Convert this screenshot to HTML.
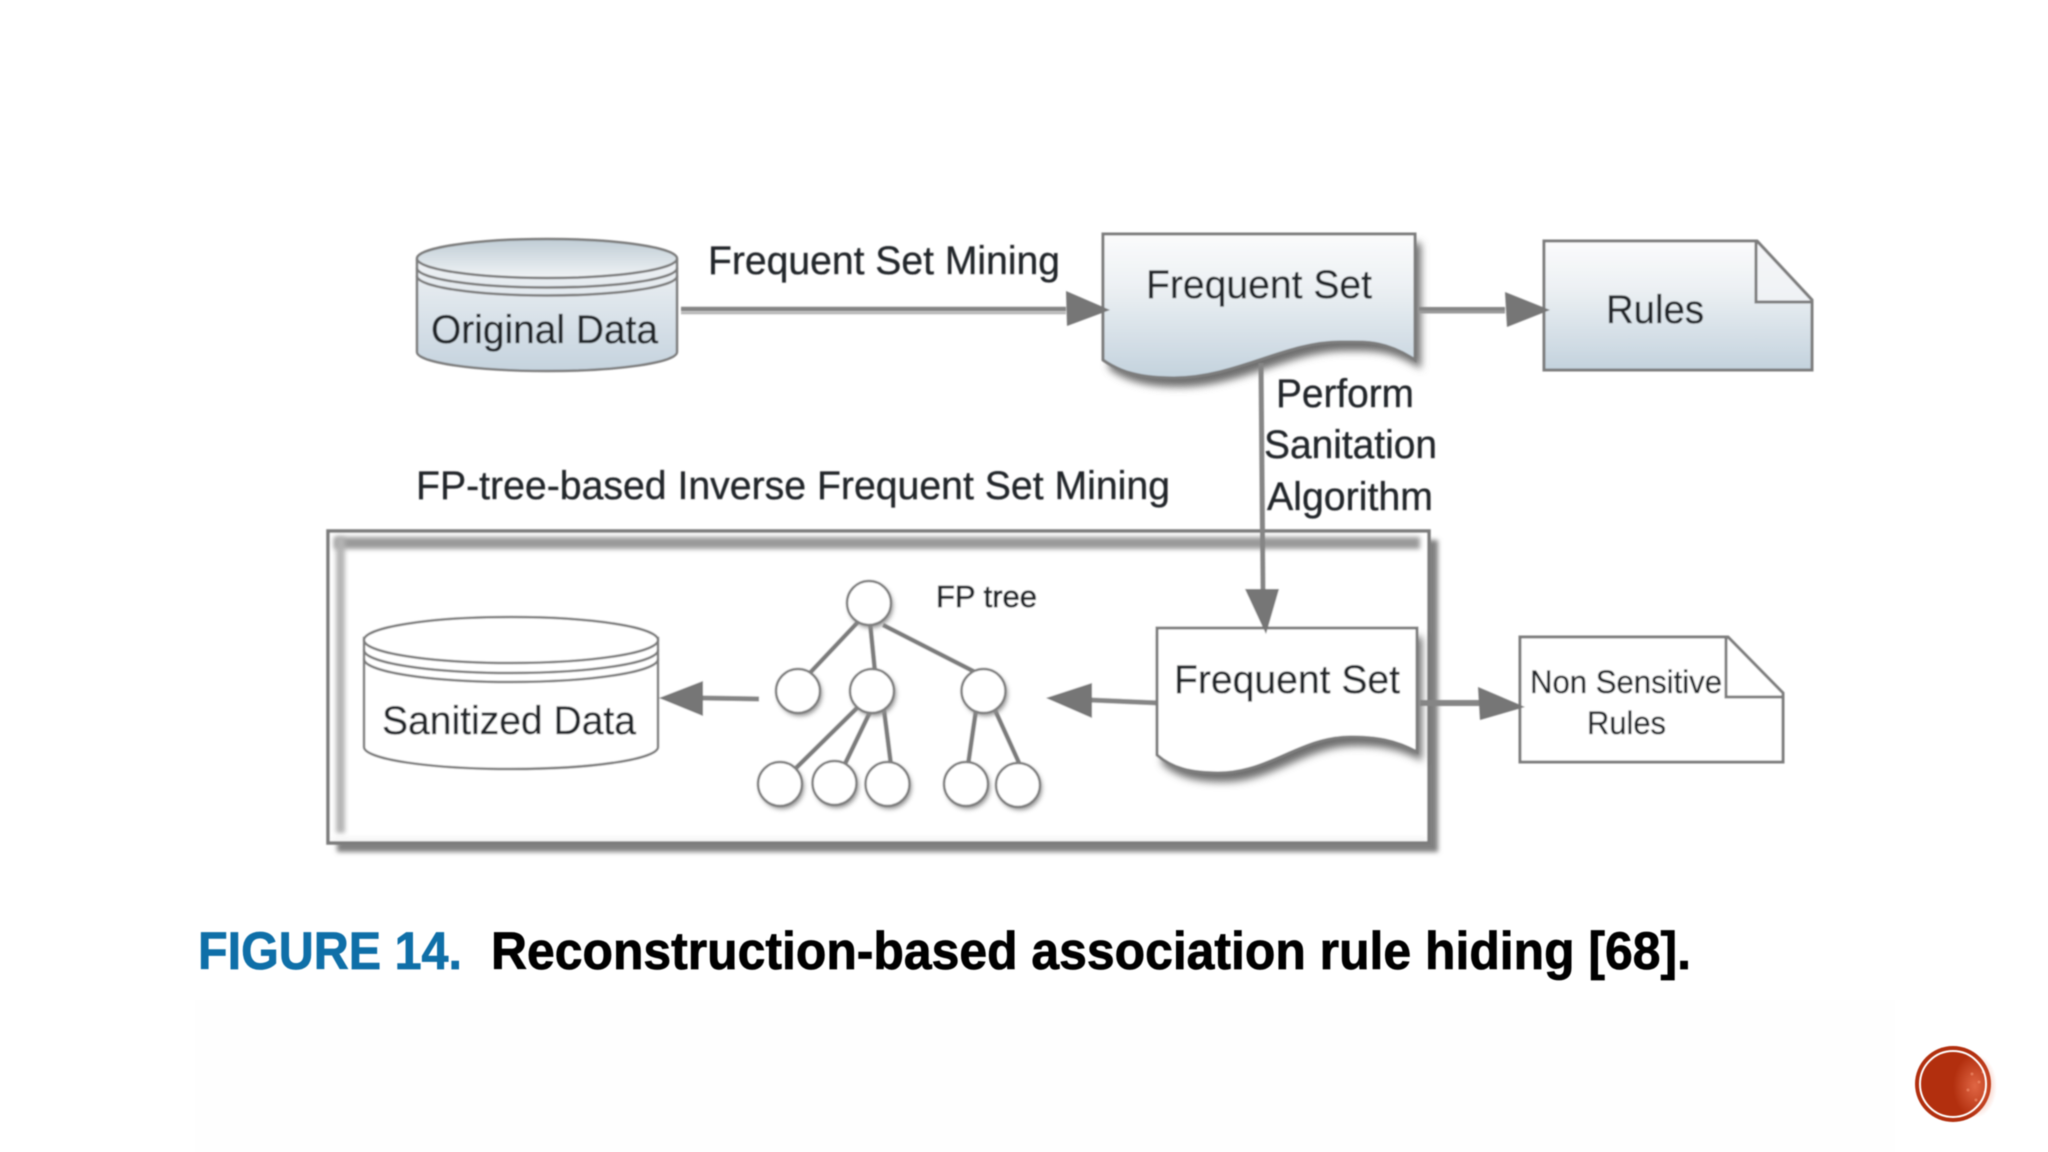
<!DOCTYPE html>
<html>
<head>
<meta charset="utf-8">
<title>Figure 14</title>
<style>
html,body{margin:0;padding:0;background:#fff;width:2048px;height:1152px;overflow:hidden}
svg{display:block;position:absolute;left:0;top:0}
text{font-family:"Liberation Sans",sans-serif;fill:#23262a;stroke:#23262a;stroke-width:.35}
</style>
</head>
<body>
<svg width="2048" height="1152" viewBox="0 0 2048 1152" xmlns="http://www.w3.org/2000/svg">
<defs>
<linearGradient id="body" x1="0" y1="0" x2="0" y2="1"><stop offset="0" stop-color="#fbfbfc"/><stop offset=".35" stop-color="#edf1f4"/><stop offset="1" stop-color="#c3d2dd"/></linearGradient>
<linearGradient id="lid" x1="0" y1="0" x2="0" y2="1"><stop offset="0" stop-color="#bfccd5"/><stop offset="1" stop-color="#f0f3f5"/></linearGradient>
<linearGradient id="cyl" x1="0" y1="0" x2="0" y2="1"><stop offset="0" stop-color="#eef1f4"/><stop offset="1" stop-color="#c5d3de"/></linearGradient>
<radialGradient id="tex" cx=".5" cy=".5" r=".5"><stop offset="0" stop-color="#e8704e" stop-opacity=".85"/><stop offset="1" stop-color="#e8704e" stop-opacity="0"/></radialGradient>
<filter id="b1" filterUnits="userSpaceOnUse" x="0" y="0" width="2048" height="1152"><feGaussianBlur stdDeviation="0.8"/></filter>
<filter id="b4" filterUnits="userSpaceOnUse" x="0" y="0" width="2048" height="1152"><feGaussianBlur stdDeviation="4"/></filter>
<filter id="b3" filterUnits="userSpaceOnUse" x="0" y="0" width="2048" height="1152"><feGaussianBlur stdDeviation="2.5"/></filter>
</defs>
<rect width="2048" height="1152" fill="#fff"/>
<rect x="195" y="1000" width="1700" height="152" fill="#fefefe"/>
<g filter="url(#b1)">

<!-- frame -->
<rect x="337" y="540" width="1101" height="312" fill="#808080" filter="url(#b3)"/>
<rect x="328" y="531" width="1101" height="312" fill="#fff"/>
<rect x="334" y="537" width="1086" height="12" fill="#9a9a9a" filter="url(#b3)"/>
<rect x="336" y="537" width="9" height="296" fill="#b4b4b4" filter="url(#b3)"/>
<rect x="332" y="838" width="1094" height="3" fill="#eeeeee" filter="url(#b3)"/>
<rect x="328" y="531" width="1101" height="312" fill="none" stroke="#7b7b7b" stroke-width="3.5"/>

<!-- Original Data cylinder -->
<path d="M417,260 V352 A130,19 0 0 0 677,352 V260 Z" fill="url(#cyl)" stroke="#7d7d7d" stroke-width="2.5"/>
<path d="M417,276 A130,19.5 0 0 0 677,276" fill="none" stroke="#7d7d7d" stroke-width="2.5"/>
<path d="M417,268 A130,19.5 0 0 0 677,268" fill="none" stroke="#7d7d7d" stroke-width="2.5"/>
<ellipse cx="547" cy="258.5" rx="130" ry="19.5" fill="url(#lid)" stroke="#7d7d7d" stroke-width="2.5"/>

<!-- Frequent Set 1 -->
<path d="M1103,234 H1415 V360 C1385,340 1365,342 1340,342 C1285,342 1235,378 1174,378 C1140,378 1120,372 1103,360 Z" transform="translate(6,9)" fill="#6e6e6e" filter="url(#b4)"/>
<path d="M1103,234 H1415 V360 C1385,340 1365,342 1340,342 C1285,342 1235,378 1174,378 C1140,378 1120,372 1103,360 Z" fill="url(#body)" stroke="#7d7d7d" stroke-width="3"/>

<!-- Rules -->
<path d="M1544,241 H1757 L1812,300 V370 H1544 Z" fill="url(#body)" stroke="#7d7d7d" stroke-width="3"/>
<path d="M1757,241 L1812,300 L1812,302 L1756,302 Z" fill="#f2f4f6" opacity=".7"/>
<path d="M1757,241 L1812,300" fill="none" stroke="#7d7d7d" stroke-width="3"/>
<path d="M1756,241 V302 H1812" fill="none" stroke="#7d7d7d" stroke-width="3"/>

<!-- arrows top -->
<path d="M681,309 H1066" stroke="#858585" stroke-width="4.5" fill="none"/>
<path d="M681,313 H1066" stroke="#b5b5b5" stroke-width="2.5" fill="none"/>
<path d="M1066,291 L1110,310 L1067,326 Z" fill="#767676"/>
<path d="M1419,309 H1505" stroke="#858585" stroke-width="4" fill="none"/>
<path d="M1419,312 H1505" stroke="#9a9a9a" stroke-width="3" fill="none"/>
<path d="M1505,292 L1550,310 L1507,327 Z" fill="#767676"/>

<!-- vertical connector -->
<path d="M1261,363 L1263,592" stroke="#858585" stroke-width="5" fill="none"/>

<!-- Sanitized Data cylinder -->
<path d="M364,638 V747 A147,22 0 0 0 658,747 V638 Z" fill="#fff" stroke="#7d7d7d" stroke-width="2.5"/>
<path d="M364,659 A147,23 0 0 0 658,659" fill="none" stroke="#7d7d7d" stroke-width="2.5"/>
<path d="M364,650 A147,23 0 0 0 658,650" fill="none" stroke="#7d7d7d" stroke-width="2.5"/>
<ellipse cx="511" cy="640" rx="147" ry="23" fill="#fff" stroke="#7d7d7d" stroke-width="2.5"/>

<!-- tree edges -->
<g stroke="#7c7c7c" stroke-width="4.5" fill="none">
<path d="M858,622 L807,676"/>
<path d="M870,622 L875,672"/>
<path d="M883,625 L975,672"/>
<path d="M858,707 L794,770"/>
<path d="M871,710 L843,768"/>
<path d="M884,710 L891,765"/>
<path d="M976,710 L968,765"/>
<path d="M995,710 L1020,765"/>
</g>
<!-- tree nodes -->
<g fill="#8f8f8f" filter="url(#b3)" transform="translate(2,3)">
<circle cx="869" cy="603" r="22"/><circle cx="798" cy="691" r="22"/><circle cx="872" cy="691" r="22"/><circle cx="983.5" cy="691" r="22"/>
<circle cx="780" cy="784" r="22"/><circle cx="834.5" cy="783" r="22"/><circle cx="887.5" cy="784" r="22"/><circle cx="966" cy="784" r="22"/><circle cx="1018" cy="785" r="22"/>
</g>
<g fill="#fff" stroke="#7f7f7f" stroke-width="2.5">
<circle cx="869" cy="603" r="22"/><circle cx="798" cy="691" r="22"/><circle cx="872" cy="691" r="22"/><circle cx="983.5" cy="691" r="22"/>
<circle cx="780" cy="784" r="22"/><circle cx="834.5" cy="783" r="22"/><circle cx="887.5" cy="784" r="22"/><circle cx="966" cy="784" r="22"/><circle cx="1018" cy="785" r="22"/>
</g>

<!-- arrows inside frame -->
<path d="M702,698 L759,699" stroke="#858585" stroke-width="5" fill="none"/>
<path d="M659,698 L703,681 V716 Z" fill="#767676"/>
<path d="M1090,700 L1159,703" stroke="#858585" stroke-width="5" fill="none"/>
<path d="M1046,698 L1092,683 V718 Z" fill="#767676"/>

<!-- Frequent Set 2 -->
<path d="M1157,628 H1417 V752 C1395,740 1375,737 1351,737 C1300,737 1270,773 1218,773 C1190,773 1172,768 1157,755 Z" transform="translate(5,9)" fill="#6e6e6e" filter="url(#b4)"/>
<path d="M1157,628 H1417 V752 C1395,740 1375,737 1351,737 C1300,737 1270,773 1218,773 C1190,773 1172,768 1157,755 Z" fill="#fff" stroke="#7d7d7d" stroke-width="3"/>
<path d="M1245,589 H1279 L1266,634 Z" fill="#767676"/>

<!-- Non sensitive -->
<path d="M1420,703 H1480" stroke="#858585" stroke-width="6" fill="none"/>
<path d="M1520,637 H1728 L1783,693 V762 H1520 Z" fill="#fff" stroke="#7d7d7d" stroke-width="3"/>
<path d="M1726,637 V697 H1783" fill="none" stroke="#7d7d7d" stroke-width="3"/>
<path d="M1478,687 L1525,707 L1480,720 Z" fill="#767676"/>

<!-- text -->
<g font-size="40">
<text x="431" y="343" textLength="227" lengthAdjust="spacingAndGlyphs">Original Data</text>
<text x="708" y="274" textLength="352" lengthAdjust="spacingAndGlyphs">Frequent Set Mining</text>
<text x="416" y="499" textLength="754" lengthAdjust="spacingAndGlyphs">FP-tree-based Inverse Frequent Set Mining</text>
<text x="1146" y="298" textLength="226" lengthAdjust="spacingAndGlyphs">Frequent Set</text>
<text x="1606" y="323" textLength="98" lengthAdjust="spacingAndGlyphs">Rules</text>
<text x="1276" y="407" textLength="138" lengthAdjust="spacingAndGlyphs">Perform</text>
<text x="1264" y="458" textLength="173" lengthAdjust="spacingAndGlyphs">Sanitation</text>
<text x="1267" y="510" textLength="166" lengthAdjust="spacingAndGlyphs">Algorithm</text>
<text x="382" y="734" textLength="254" lengthAdjust="spacingAndGlyphs">Sanitized Data</text>
<text x="1174" y="693" textLength="226" lengthAdjust="spacingAndGlyphs">Frequent Set</text>
</g>
<text x="936" y="607" font-size="31" textLength="101" lengthAdjust="spacingAndGlyphs" style="stroke-width:.7">FP tree</text>
<text x="1530" y="693" font-size="32" textLength="192" lengthAdjust="spacingAndGlyphs">Non Sensitive</text>
<text x="1587" y="734" font-size="32" textLength="79" lengthAdjust="spacingAndGlyphs">Rules</text>
</g>

<!-- caption -->
<g font-weight="700" font-size="53" style="filter:blur(.4px)">
<text x="198" y="969" textLength="264" lengthAdjust="spacingAndGlyphs" style="fill:#0f6fa8;stroke:#0f6fa8;stroke-width:.8">FIGURE 14.</text>
<text x="491" y="969" textLength="1200" lengthAdjust="spacingAndGlyphs" style="fill:#000;stroke:#000;stroke-width:.8">Reconstruction-based association rule hiding [68].</text>
</g>

<!-- badge -->
<g style="filter:blur(.5px)">
<circle cx="1953" cy="1084" r="38" fill="#b22f0e"/>
<ellipse cx="1975" cy="1086" rx="22" ry="32" fill="url(#tex)"/>
<g fill="#ee8a68" opacity=".7">
<circle cx="1972" cy="1074" r="1.5"/><circle cx="1979" cy="1082" r="1.5"/><circle cx="1968" cy="1090" r="1.5"/><circle cx="1985" cy="1092" r="1.5"/><circle cx="1976" cy="1100" r="1.5"/><circle cx="1983" cy="1072" r="1.5"/>
</g>
<circle cx="1953" cy="1084" r="33" fill="none" stroke="#fff" stroke-width="2"/>
</g>
</svg>
</body>
</html>
